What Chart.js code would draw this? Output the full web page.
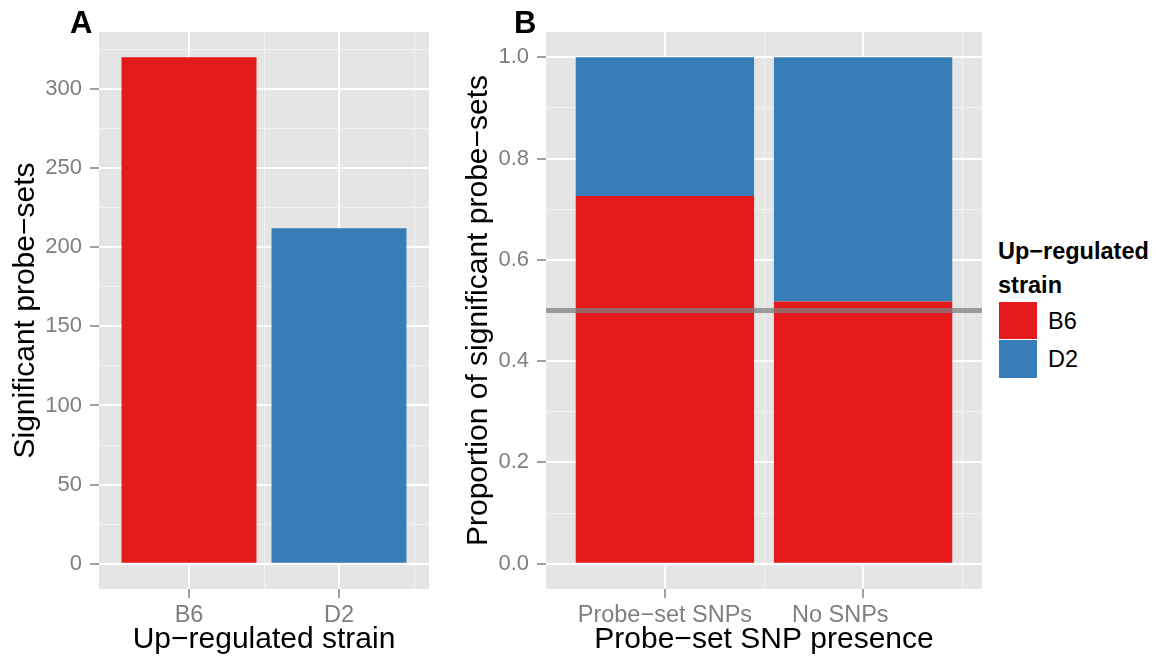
<!DOCTYPE html>
<html>
<head>
<meta charset="utf-8">
<script src="https://cdn.jsdelivr.net/npm/chart.js@4.4.1/dist/chart.umd.min.js"></script>
<style>
  html, body { margin: 0; padding: 0; background: #ffffff; }
  body { width: 1156px; height: 658px; position: relative; overflow: hidden;
         font-family: 'Liberation Sans', Arial, Helvetica, sans-serif; }
  canvas { position: absolute; top: 0; }
  .tag { position: absolute; font-weight: bold; font-size: 31px; line-height: 31px; color: #000; }
  .legTitle { position: absolute; left: 998px; top: 234px; font-weight: bold; font-size: 23.5px; line-height: 34px; color: #000; white-space: nowrap; }
  .key { position: absolute; left: 999px; width: 38px; }
  .keyLab { position: absolute; left: 1048px; font-size: 23.5px; line-height: 38px; height: 38px; color: #000; }
</style>
</head>
<body>
<canvas id="chartA" width="440" height="658" style="left:0px"></canvas>
<canvas id="chartB" width="550" height="658" style="left:440px"></canvas>
<div class="tag" style="left:70px; top:7px">A</div>
<div class="tag" style="left:514px; top:7px">B</div>
<div class="legTitle" id="legTitle"></div>
<div id="legend"></div>
<script>
// ---------------- data ----------------
const strainCategories = ['B6', 'D2'];
const strainCounts = [320, 212];
const strainColors = ['#E41A1C', '#377EB8'];

// the second label carries trailing blanks in the source figure (drawn left of its tick)
const snpCategories = ['Probe\u2212set SNPs', 'No SNPs       '];
const propB6 = [0.726, 0.518];
const propD2 = [0.274, 0.482];
const referenceLine = 0.5;

const yTicksA = [0, 50, 100, 150, 200, 250, 300];
const yMinorA = [25, 75, 125, 175, 225, 275, 325];
const yTicksB = [0, 0.2, 0.4, 0.6, 0.8, 1.0];
const yTickLabelsB = ['0.0', '0.2', '0.4', '0.6', '0.8', '1.0'];
const yMinorB = [0.1, 0.3, 0.5, 0.7, 0.9];
const xPositions = [1, 2];
const xMinor = [1.5, 2.5];

const legendTitle = ['Up\u2212regulated', 'strain'];
const legendLabels = ['B6', 'D2'];

// ---------------- styling helpers ----------------
const FONT = "'Liberation Sans', Arial, Helvetica, sans-serif";
const PANEL_BG = '#E5E5E5';
const TICK_GREY = '#7F7F7F';

const panelBg = {
  id: 'panelBg',
  beforeDraw(chart) {
    const a = chart.chartArea, ctx = chart.ctx;
    ctx.save();
    ctx.fillStyle = PANEL_BG;
    ctx.fillRect(a.left, a.top, a.right - a.left, a.bottom - a.top);
    ctx.restore();
  }
};

function tickObjs(major, minor) {
  return major.map(v => ({ value: v, minor: false }))
    .concat(minor.map(v => ({ value: v, minor: true })))
    .sort((a, b) => a.value - b.value);
}
function gridOpts() {
  return {
    offset: false,
    color: c => (c.tick && c.tick.minor) ? '#F2F2F2' : '#FFFFFF',
    lineWidth: c => (c.tick && c.tick.minor) ? 1 : 2,
    drawTicks: true,
    tickLength: 9,
    tickWidth: 1.5,
    tickColor: c => (c.tick && c.tick.minor) ? 'rgba(0,0,0,0)' : TICK_GREY
  };
}

function xScale(labels, title) {
  return {
    type: 'linear', min: 0.4, max: 2.6, stacked: true, offset: false,
    border: { display: false },
    grid: gridOpts(),
    afterBuildTicks: s => { s.ticks = tickObjs(xPositions, xMinor); },
    afterFit: s => { s.height = 69; },
    ticks: {
      autoSkip: false, maxRotation: 0, padding: 3, color: TICK_GREY,
      font: { family: FONT, size: 23.5 },
      callback: v => { const i = xPositions.indexOf(v); return i >= 0 ? labels[i] : ''; }
    },
    title: { display: true, text: title, color: '#000', font: { family: FONT, size: 30 }, padding: { top: 0, bottom: 0 } }
  };
}
function yScale(min, max, major, minor, labelFn, title, width, titlePad) {
  return {
    type: 'linear', min: min, max: max, offset: false,
    border: { display: false },
    grid: gridOpts(),
    afterBuildTicks: s => { s.ticks = tickObjs(major, minor); },
    afterFit: s => { s.width = width; },
    ticks: {
      autoSkip: false, padding: 8, color: TICK_GREY,
      font: { family: FONT, size: 22 },
      callback: v => { const i = major.indexOf(v); return i >= 0 ? labelFn(i) : ''; }
    },
    title: { display: true, text: title, color: '#000', font: { family: FONT, size: 30 }, padding: { top: titlePad, bottom: 0 } }
  };
}

const common = {
  responsive: false,
  animation: false,
  devicePixelRatio: 1,
  plugins: { legend: { display: false }, tooltip: { enabled: false } }
};

// ---------------- Panel A ----------------
new Chart(document.getElementById('chartA'), {
  type: 'bar',
  data: {
    datasets: [{
      data: strainCategories.map((c, i) => ({ x: xPositions[i], y: strainCounts[i] })),
      backgroundColor: strainColors,
      borderWidth: 0,
      categoryPercentage: 1.8,
      barPercentage: 1.0
    }]
  },
  options: Object.assign({}, common, {
    layout: { padding: { left: 0, right: 11, top: 32, bottom: 0 } },
    scales: {
      x: xScale(strainCategories, 'Up\u2212regulated strain'),
      y: yScale(-16, 336, yTicksA, yMinorA, i => String(yTicksA[i]), 'Significant probe\u2212sets', 99, 8)
    }
  }),
  plugins: [panelBg]
});

// ---------------- Panel B ----------------
const yB = yScale(-0.05, 1.05, yTicksB, yMinorB, i => yTickLabelsB[i], 'Proportion of significant probe\u2212sets', 106, 21);
yB.stacked = true;
new Chart(document.getElementById('chartB'), {
  type: 'bar',
  data: {
    datasets: [
      {
        label: legendLabels[0],
        data: snpCategories.map((c, i) => ({ x: xPositions[i], y: propB6[i] })),
        backgroundColor: strainColors[0], borderWidth: 0,
        categoryPercentage: 1.8, barPercentage: 1.0, stack: 's', order: 1
      },
      {
        label: legendLabels[1],
        data: snpCategories.map((c, i) => ({ x: xPositions[i], y: propD2[i] })),
        backgroundColor: strainColors[1], borderWidth: 0,
        categoryPercentage: 1.8, barPercentage: 1.0, stack: 's', order: 1
      },
      {
        type: 'line',
        label: 'reference',
        data: [{ x: 0.4, y: referenceLine }, { x: 2.6, y: referenceLine }],
        borderColor: 'rgba(127,127,127,0.75)', borderWidth: 5,
        pointRadius: 0, fill: false, stack: 'ref', order: -1
      }
    ]
  },
  options: Object.assign({}, common, {
    layout: { padding: { left: 0, right: 8, top: 32, bottom: 0 } },
    scales: {
      x: xScale(snpCategories, 'Probe\u2212set SNP presence'),
      y: yB
    }
  }),
  plugins: [panelBg]
});

// ---------------- Legend ----------------
document.getElementById('legTitle').innerHTML = legendTitle.join('<br>');
const leg = document.getElementById('legend');
const keyTops = [302, 340];
legendLabels.forEach((lab, i) => {
  const k = document.createElement('div');
  k.className = 'key';
  k.style.top = keyTops[i] + 'px';
  k.style.height = (i === 0 ? 37 : 38) + 'px';
  k.style.background = strainColors[i];
  leg.appendChild(k);
  const t = document.createElement('div');
  t.className = 'keyLab';
  t.style.top = (keyTops[i]) + 'px';
  t.textContent = lab;
  leg.appendChild(t);
});
</script>
</body>
</html>
